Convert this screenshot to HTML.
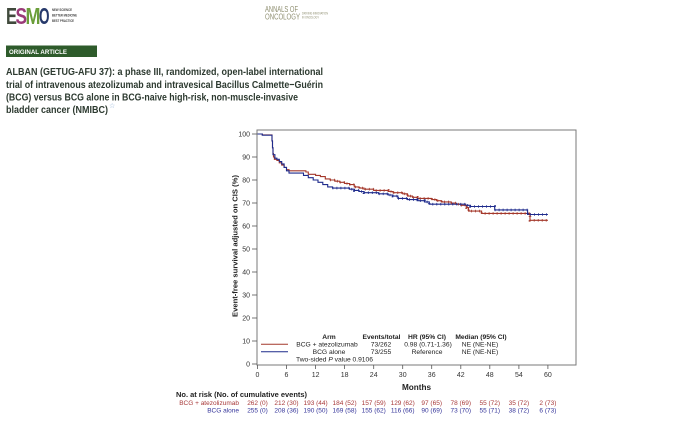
<!DOCTYPE html>
<html><head><meta charset="utf-8"><style>
html,body{margin:0;padding:0;background:#fff;}
svg{display:block;}
text{font-family:"Liberation Sans",sans-serif;}
</style></head><body>
<svg width="680" height="439" viewBox="0 0 680 439" xmlns="http://www.w3.org/2000/svg">
<rect width="680" height="439" fill="#fff"/>
<!-- ESMO logo -->
<g font-weight="bold" font-size="23">
<text x="6" y="24" textLength="11" lengthAdjust="spacingAndGlyphs" fill="#404a3c">E</text>
<text x="15.5" y="24" textLength="11.5" lengthAdjust="spacingAndGlyphs" fill="#9a3a78">S</text>
<text x="25.5" y="24" textLength="15" lengthAdjust="spacingAndGlyphs" fill="#6b9e3a">M</text>
<text x="39" y="24" textLength="10.5" lengthAdjust="spacingAndGlyphs" fill="#26396b">O</text>
</g>
<g font-size="3.6" font-weight="bold" fill="#444">
<text x="52" y="11" textLength="20" lengthAdjust="spacingAndGlyphs">NEW SCIENCE</text>
<text x="52" y="16.5" textLength="25" lengthAdjust="spacingAndGlyphs">BETTER MEDICINE</text>
<text x="52" y="22" textLength="22" lengthAdjust="spacingAndGlyphs">BEST PRACTICE</text>
</g>
<!-- Annals logo -->
<g fill="#8e8e70">
<text x="265" y="12" font-size="8.5" textLength="33" lengthAdjust="spacingAndGlyphs">ANNALS OF</text>
<text x="265" y="19.5" font-size="8.5" textLength="35" lengthAdjust="spacingAndGlyphs">ONCOLOGY</text>
<text x="302" y="14.5" font-size="3.6" textLength="26" lengthAdjust="spacingAndGlyphs">DRIVING INNOVATION</text>
<text x="302" y="18.5" font-size="3.6" textLength="17" lengthAdjust="spacingAndGlyphs">IN ONCOLOGY</text>
</g>
<!-- banner -->
<rect x="6" y="45.5" width="91" height="11.5" fill="#2e5b2b"/>
<text x="9" y="54" font-size="6.8" font-weight="bold" fill="#fff" textLength="58" lengthAdjust="spacingAndGlyphs">ORIGINAL ARTICLE</text>
<!-- title -->
<g font-size="10.5" font-weight="bold" fill="#2d3a30">
<text x="6" y="75" textLength="317" lengthAdjust="spacingAndGlyphs">ALBAN (GETUG-AFU 37): a phase III, randomized, open-label international</text>
<text x="6" y="88" textLength="317" lengthAdjust="spacingAndGlyphs">trial of intravenous atezolizumab and intravesical Bacillus Calmette−Guérin</text>
<text x="6" y="100.5" textLength="292" lengthAdjust="spacingAndGlyphs">(BCG) versus BCG alone in BCG-naive high-risk, non-muscle-invasive</text>
<text x="6" y="113" textLength="102" lengthAdjust="spacingAndGlyphs">bladder cancer (NMIBC)</text>
</g>
<text x="109" y="108" font-size="7" fill="#8fb0d8" style="font-family:'DejaVu Sans',sans-serif">☆</text>

<!-- plot frame -->
<rect x="257" y="130" width="319" height="235" fill="none" stroke="#7a7a7a" stroke-width="1"/>
<!-- y ticks -->
<g stroke="#555" stroke-width="0.8">
<line x1="252" y1="134" x2="257" y2="134"/><line x1="252" y1="157" x2="257" y2="157"/>
<line x1="252" y1="180" x2="257" y2="180"/><line x1="252" y1="203" x2="257" y2="203"/>
<line x1="252" y1="226" x2="257" y2="226"/><line x1="252" y1="249" x2="257" y2="249"/>
<line x1="252" y1="272" x2="257" y2="272"/><line x1="252" y1="295" x2="257" y2="295"/>
<line x1="252" y1="318" x2="257" y2="318"/><line x1="252" y1="341" x2="257" y2="341"/>
<line x1="252" y1="364" x2="257" y2="364"/>
</g>
<g font-size="7" fill="#333" text-anchor="end">
<text x="250" y="136.5">100</text><text x="250" y="159.5">90</text><text x="250" y="182.5">80</text>
<text x="250" y="205.5">70</text><text x="250" y="228.5">60</text><text x="250" y="251.5">50</text>
<text x="250" y="274.5">40</text><text x="250" y="297.5">30</text><text x="250" y="320.5">20</text>
<text x="250" y="343.5">10</text><text x="250" y="366.5">0</text>
</g>
<!-- x ticks -->
<g stroke="#555" stroke-width="0.8">
<line x1="257.5" y1="365" x2="257.5" y2="369"/><line x1="286.5" y1="365" x2="286.5" y2="369"/>
<line x1="315.6" y1="365" x2="315.6" y2="369"/><line x1="344.6" y1="365" x2="344.6" y2="369"/>
<line x1="373.7" y1="365" x2="373.7" y2="369"/><line x1="402.7" y1="365" x2="402.7" y2="369"/>
<line x1="431.7" y1="365" x2="431.7" y2="369"/><line x1="460.8" y1="365" x2="460.8" y2="369"/>
<line x1="489.8" y1="365" x2="489.8" y2="369"/><line x1="518.9" y1="365" x2="518.9" y2="369"/>
<line x1="547.9" y1="365" x2="547.9" y2="369"/>
</g>
<g font-size="7" fill="#333" text-anchor="middle">
<text x="257.5" y="377">0</text><text x="286.5" y="377">6</text><text x="315.6" y="377">12</text>
<text x="344.6" y="377">18</text><text x="373.7" y="377">24</text><text x="402.7" y="377">30</text>
<text x="431.7" y="377">36</text><text x="460.8" y="377">42</text><text x="489.8" y="377">48</text>
<text x="518.9" y="377">54</text><text x="547.9" y="377">60</text>
</g>
<text x="416.5" y="390" font-size="8.2" font-weight="bold" fill="#222" text-anchor="middle">Months</text>
<text transform="translate(237.5,246) rotate(-90)" font-size="7.5" font-weight="bold" fill="#222" text-anchor="middle" textLength="142" lengthAdjust="spacingAndGlyphs">Event-free survival adjusted on CIS (%)</text>

<!-- curves -->
<path fill="none" stroke="#a4382b" stroke-width="1.1" d="M257.5,134 H262.3 V134.9 H272.0 V140.9 H272.5 V147.8 H273.0 V153.6 H273.5 V157 H274.4 V159.3 H276.9 V160.5 H279.3 V162.8 H281.7 V165.1 H284.1 V167.4 H286.5 V169.7 H289.0 V170.8 H305.9 V172.0 H308.3 V174.3 H315.6 V175.4 H320.4 V176.6 H325.3 V178.9 H330.1 V180 H334.9 V181.2 H339.8 V182.3 H344.6 V183.5 H349.5 V184.6 H354.3 V186.9 H359.1 V188.1 H364.0 V189.2 H373.7 V190.4 H388.2 V191.5 H393.0 V192.7 H402.7 V193.8 H407.5 V196.1 H412.4 V197.3 H417.2 V198.4 H431.7 V199.6 H436.6 V200.7 H441.4 V201.9 H451.1 V203 H455.9 V204.2 H460.8 V205.3 H466.6 V207.6 H468.5 V211.1 H481.6 V213.4 H530.0 V220.3 H547.9"/>
<path fill="none" stroke="#1e2b8c" stroke-width="1.1" d="M257.5,134 H262.3 V135.2 H272.0 V140.9 H272.5 V147.8 H273.0 V154.7 H274.9 V158.2 H276.9 V159.3 H279.3 V161.6 H281.7 V163.9 H284.1 V167.4 H286.5 V170.8 H289.0 V173.1 H303.5 V175.4 H308.3 V177.7 H313.2 V180 H318.0 V182.3 H322.8 V184.6 H327.7 V186.9 H332.5 V188.1 H349.5 V189.2 H354.3 V190.4 H359.1 V191.5 H364.0 V192.7 H378.5 V193.8 H388.2 V195.0 H393.0 V196.1 H397.9 V198.4 H407.5 V199.6 H417.2 V200.7 H424.5 V201.9 H429.3 V204.2 H465.6 V205.3 H470.5 V206.5 H494.7 V209.9 H527.6 V214.5 H547.9"/>
<!-- censor marks -->
<path fill="none" stroke="#a4382b" stroke-width="2.6" stroke-dasharray="0.8 3.2" d="M330.1,180 H334.9 V181.2 H339.8 V182.3 H344.6 V183.5 H349.5 V184.6 H354.3 V186.9 H359.1 V188.1 H364.0 V189.2 H373.7 V190.4 H388.2 V191.5 H393.0 V192.7 H402.7 V193.8 H407.5 V196.1 H412.4 V197.3 H417.2 V198.4 H431.7 V199.6 H436.6 V200.7 H441.4 V201.9 H451.1 V203 H455.9 V204.2 H460.8 V205.3 H466.6 V207.6 H468.5 V211.1 H481.6 V213.4 H530.0 V220.3 H547.9"/>
<path fill="none" stroke="#1e2b8c" stroke-width="2.6" stroke-dasharray="0.8 3.2" d="M332.5,188.1 H349.5 V189.2 H354.3 V190.4 H359.1 V191.5 H364.0 V192.7 H378.5 V193.8 H388.2 V195.0 H393.0 V196.1 H397.9 V198.4 H407.5 V199.6 H417.2 V200.7 H424.5 V201.9 H429.3 V204.2 H465.6 V205.3 H470.5 V206.5 H494.7 V209.9 H527.6 V214.5 H547.9"/>

<!-- legend -->
<g font-size="6.7" fill="#222" text-anchor="middle">
<text x="329" y="339" font-weight="bold">Arm</text>
<text x="381.5" y="339" font-weight="bold">Events/total</text>
<text x="427" y="339" font-weight="bold">HR (95% CI)</text>
<text x="481" y="339" font-weight="bold">Median (95% CI)</text>
<text x="327" y="346.5">BCG + atezolizumab</text>
<text x="381" y="346.5">73/262</text>
<text x="428" y="346.5">0.98 (0.71-1.36)</text>
<text x="480" y="346.5">NE (NE-NE)</text>
<text x="329" y="354">BCG alone</text>
<text x="381" y="354">73/255</text>
<text x="427" y="354">Reference</text>
<text x="480" y="354">NE (NE-NE)</text>
<text x="296" y="361.5" text-anchor="start">Two-sided <tspan font-style="italic">P</tspan> value 0.9106</text>
</g>
<line x1="261" y1="344.3" x2="288" y2="344.3" stroke="#a4382b" stroke-width="1"/>
<line x1="261" y1="351.8" x2="288" y2="351.8" stroke="#1e2b8c" stroke-width="1"/>

<!-- risk table -->
<text x="176" y="397" font-size="7.5" font-weight="bold" fill="#222" textLength="131" lengthAdjust="spacingAndGlyphs">No. at risk (No. of cumulative events)</text>
<g font-size="6.5" fill="#a83a3a" text-anchor="middle">
<text x="239" y="405" text-anchor="end">BCG + atezolizumab</text>
<text x="257.5" y="405">262 (0)</text><text x="286.5" y="405">212 (30)</text><text x="315.6" y="405">193 (44)</text>
<text x="344.6" y="405">184 (52)</text><text x="373.7" y="405">157 (59)</text><text x="402.7" y="405">129 (62)</text>
<text x="431.7" y="405">97 (65)</text><text x="460.8" y="405">78 (69)</text><text x="489.8" y="405">55 (72)</text>
<text x="518.9" y="405">35 (72)</text><text x="547.9" y="405">2 (73)</text>
</g>
<g font-size="6.5" fill="#35359a" text-anchor="middle">
<text x="239" y="412.5" text-anchor="end">BCG alone</text>
<text x="257.5" y="412.5">255 (0)</text><text x="286.5" y="412.5">208 (36)</text><text x="315.6" y="412.5">190 (50)</text>
<text x="344.6" y="412.5">169 (58)</text><text x="373.7" y="412.5">155 (62)</text><text x="402.7" y="412.5">116 (66)</text>
<text x="431.7" y="412.5">90 (69)</text><text x="460.8" y="412.5">73 (70)</text><text x="489.8" y="412.5">55 (71)</text>
<text x="518.9" y="412.5">38 (72)</text><text x="547.9" y="412.5">6 (73)</text>
</g>
</svg>
</body></html>
